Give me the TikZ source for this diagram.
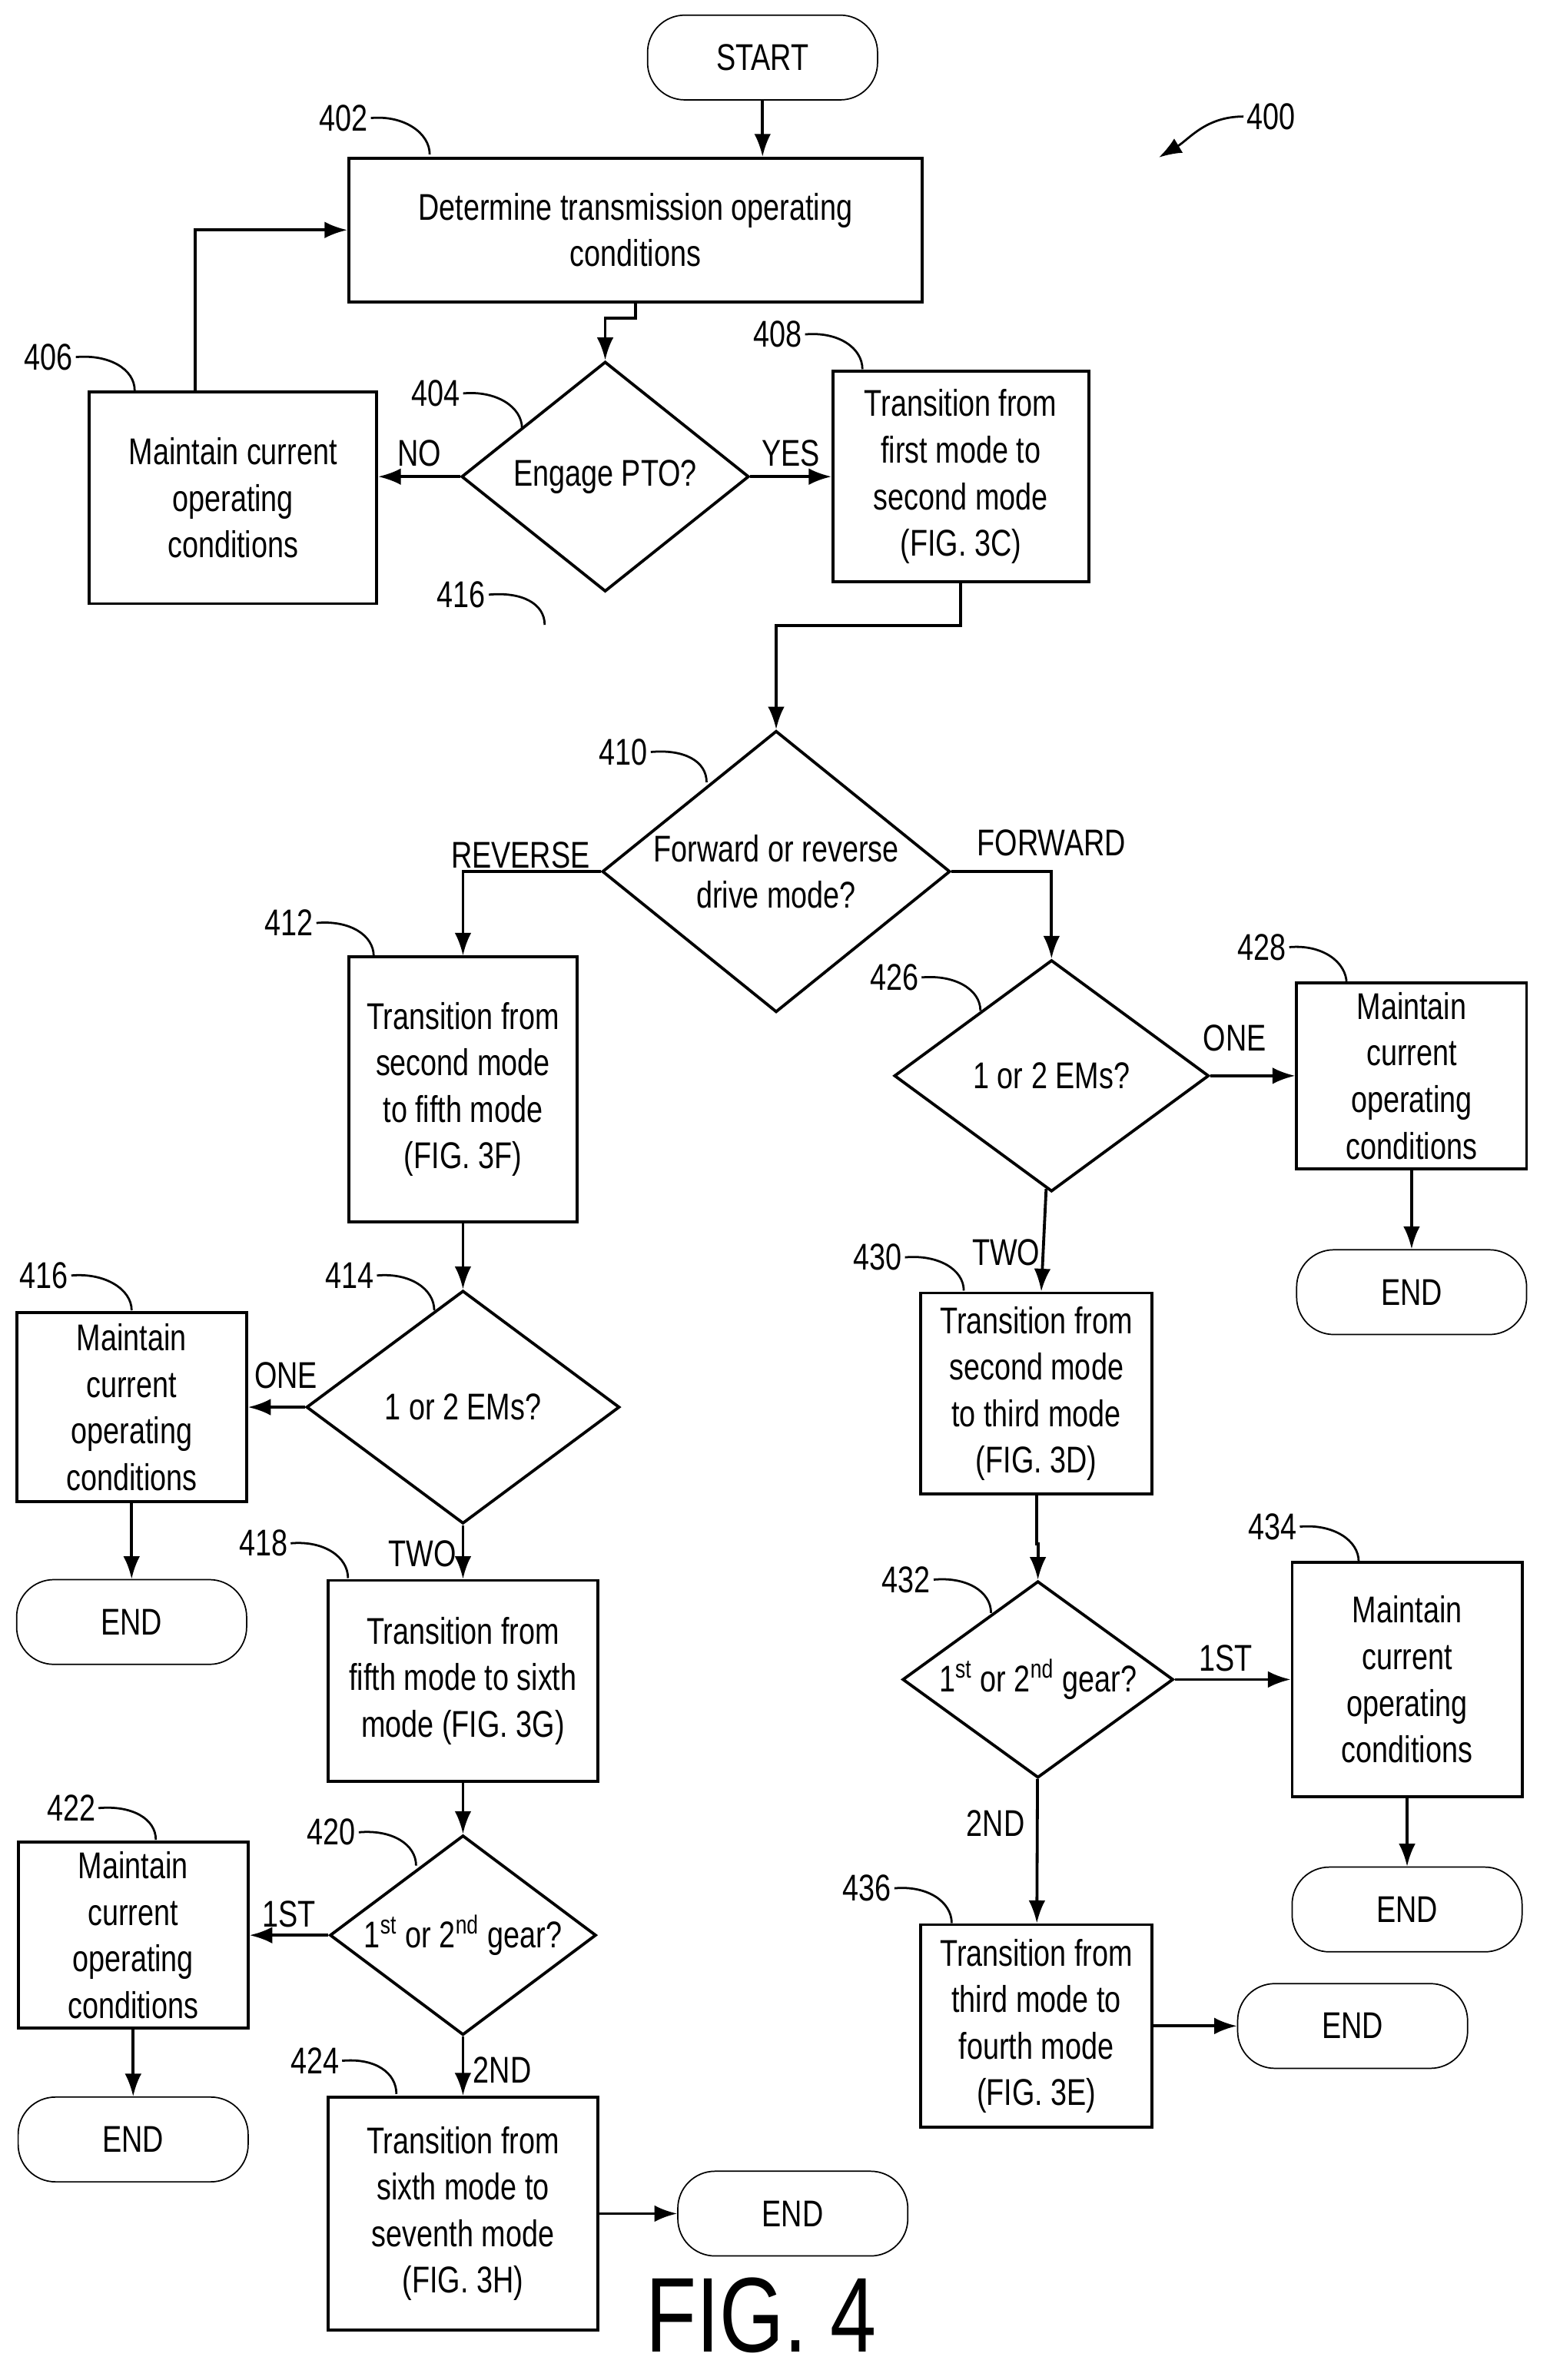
\documentclass[tikz,border=0pt]{standalone}
\usepackage{fontspec}
\setmainfont{Liberation Sans}[FakeStretch=0.78]
\usetikzlibrary{shapes.geometric,arrows.meta}
\begin{document}
\begin{tikzpicture}
    [
        x=0.2mm, y=-0.2mm,
        every node/.style={font=\fontsize{14}{17.5}\selectfont, align=center},
        box/.style={draw, line width=1.1pt, inner sep=0pt},
        decision/.style={draw, diamond, line width=1.1pt, inner sep=0pt},
        terminal/.style={draw, rounded corners=14pt, line width=0.5pt, minimum width=30.4mm, minimum height=11.2mm},
        flow/.style={line width=1.1pt, -{Latex[length=3mm,width=2.2mm]}},
        lead/.style={line width=0.8pt},
        ref/.style={inner sep=1pt}
    ]
    \useasboundingbox (0,0) rectangle (1024,1573);

    % steps
    \node[terminal] (start) at (504,38) {START};
    \node[box, minimum width=75.8mm, minimum height=19mm] (determine) at (420,152) {Determine transmission operating\\conditions};
    \node[decision, aspect=1.25, minimum width=38mm, minimum height=30.4mm] (pto) at (400,315) {Engage PTO?};
    \node[box, minimum width=38mm, minimum height=28mm] (maintainA) at (154,329) {Maintain current\\operating\\conditions};
    \node[box, minimum width=33.8mm, minimum height=27.8mm] (firstsecond) at (635,315) {Transition from\\first mode to\\second mode\\(FIG. 3C)};
    \node[decision, aspect=1.24, inner sep=-4pt, minimum width=46mm, minimum height=37.2mm] (direction) at (513,576) {Forward or reverse\\drive mode?};

    % reverse branch
    \node[box, minimum width=30.2mm, minimum height=35mm] (secondfifth) at (306,720) {Transition from\\second mode\\to fifth mode\\(FIG. 3F)};
    \node[decision, aspect=1.34, minimum width=41.4mm, minimum height=30.8mm] (emsR) at (306,930) {1 or 2 EMs?};
    \node[box, minimum width=30.4mm, minimum height=25mm] (maintainB) at (87,930) {Maintain\\current\\operating\\conditions};
    \node[terminal] (endB) at (87,1072) {END};
    \node[box, minimum width=35.6mm, minimum height=26.6mm] (fifthsixth) at (306,1111) {Transition from\\fifth mode to sixth\\mode (FIG. 3G)};
    \node[decision, aspect=1.33, inner sep=-3pt, minimum width=35.2mm, minimum height=26.4mm] (gearR) at (306,1279) {1\textsuperscript{st} or 2\textsuperscript{nd} gear?};
    \node[box, minimum width=30.4mm, minimum height=24.6mm] (maintainC) at (88,1279) {Maintain\\current\\operating\\conditions};
    \node[terminal] (endC) at (88,1414) {END};
    \node[box, minimum width=35.6mm, minimum height=30.8mm] (sixthseventh) at (306,1463) {Transition from\\sixth mode to\\seventh mode\\(FIG. 3H)};
    \node[terminal] (endD) at (524,1463) {END};

    % forward branch
    \node[decision, aspect=1.36, minimum width=41.6mm, minimum height=30.6mm] (emsF) at (695,711) {1 or 2 EMs?};
    \node[box, minimum width=30.4mm, minimum height=24.6mm] (maintainE) at (933,711) {Maintain\\current\\operating\\conditions};
    \node[terminal] (endE) at (933,854) {END};
    \node[box, minimum width=30.6mm, minimum height=26.6mm] (secondthird) at (685,921) {Transition from\\second mode\\to third mode\\(FIG. 3D)};
    \node[decision, aspect=1.38, inner sep=-3pt, minimum width=35.8mm, minimum height=26mm] (gearF) at (686,1110) {1\textsuperscript{st} or 2\textsuperscript{nd} gear?};
    \node[box, minimum width=30.4mm, minimum height=31mm] (maintainF) at (930,1110) {Maintain\\current\\operating\\conditions};
    \node[terminal] (endF) at (930,1262) {END};
    \node[box, minimum width=30.6mm, minimum height=26.8mm] (thirdfourth) at (685,1339) {Transition from\\third mode to\\fourth mode\\(FIG. 3E)};
    \node[terminal] (endG) at (894,1339) {END};

    \node[font=\fontsize{40}{44}\selectfont, inner sep=0pt] (fig) at (503,1530) {FIG. 4};

    % connectors
    \draw[flow] (start.south) -- (start.south |- determine.north);
    \draw[flow] (determine.south) -- ++(0,10) -| (pto.north);
    \draw[flow] (pto.west) -- node[above] {NO} (pto.west -| maintainA.east);
    \draw[flow] (pto) -- node[above] {YES} (firstsecond);
    \coordinate (loopA) at (129,259);
    \draw[flow] (loopA) |- (determine.west);
    \draw[flow] (firstsecond.south) -- ++(0,28) -| (direction.north);
    \draw[flow] (direction.west) -| (secondfifth.north);
    \node at (344,565) {REVERSE};
    \draw[flow] (direction.east) -| (emsF.north);
    \node at (695,557) {FORWARD};

    \draw[flow] (secondfifth) -- (emsR);
    \draw[flow] (emsR) -- (maintainB);
    \node at (189,909) {ONE};
    \draw[flow] (maintainB) -- (endB);
    \draw[flow] (emsR) -- (fifthsixth);
    \node at (279,1027) {TWO};
    \draw[flow] (fifthsixth) -- (gearR);
    \draw[flow] (gearR) -- (maintainC);
    \node at (191,1265) {1ST};
    \draw[flow] (maintainC) -- (endC);
    \draw[flow] (gearR) -- (sixthseventh);
    \node at (332,1368) {2ND};
    \draw[flow] (sixthseventh) -- (endD);

    \draw[flow] (emsF) -- (maintainE);
    \node at (816,686) {ONE};
    \draw[flow] (maintainE) -- (endE);
    \draw[flow] (emsF) -- (secondthird);
    \node at (665,828) {TWO};
    \draw[flow] (secondthird.south) -- ++(0,32) -| (gearF.north);
    \draw[flow] (gearF) -- (maintainF);
    \node at (810,1096) {1ST};
    \draw[flow] (maintainF) -- (endF);
    \draw[flow] (gearF) -- (thirdfourth);
    \node at (658,1205) {2ND};
    \draw[flow] (thirdfourth) -- (endG);

    % reference numerals
    \foreach \num/\tx/\ty/\ex/\ey in {402/227/78/284/102, 406/32/236/89/258, 404/288/260/345/283,
        408/514/221/570/244, 416/305/393/360/413, 410/412/497/467/517, 412/191/610/247/632,
        414/231/843/287/866, 416/29/843/87/866, 418/174/1020/230/1043, 420/219/1211/275/1233,
        422/47/1195/103/1216, 424/208/1362/262/1384, 426/591/646/648/668, 428/834/626/890/650,
        430/580/831/637/853, 432/599/1044/655/1066, 434/841/1009/898/1032, 436/573/1248/629/1271}
    {
        \node[ref] (r\num) at (\tx,\ty) {\num};
        \draw[lead] (r\num.east) .. controls +(22,-2) and +(0,-14) .. (\ex,\ey);
    }
    \node[ref] (r400) at (840,77) {400};
    \coordinate (tip400) at (766,104);
    \draw[lead, -{Latex[length=3mm,width=2.2mm]}] (r400.west) .. controls +(-25,0) and +(20,-12) .. (tip400);
\end{tikzpicture}
\end{document}
